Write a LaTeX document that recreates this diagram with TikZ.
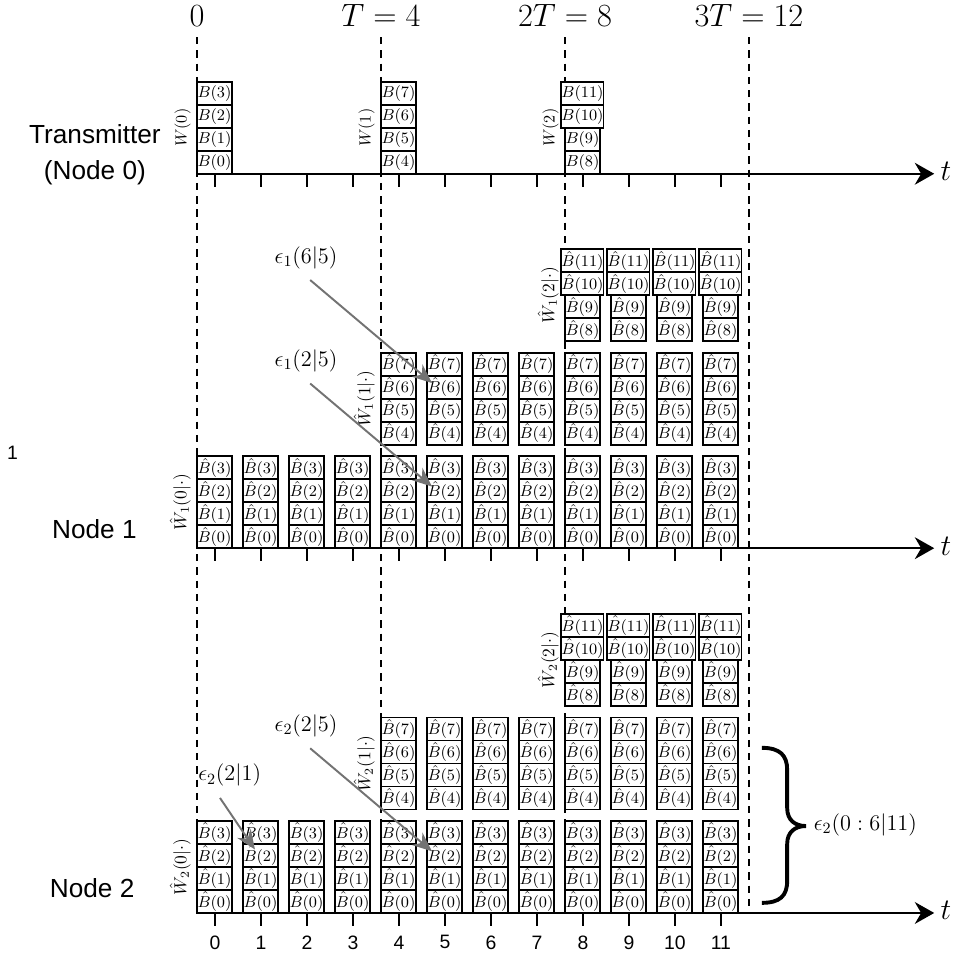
\RequirePackage{fix-cm}
\documentclass[tikz,border=0pt]{standalone}
\usepackage{fontspec}
\newfontfamily\labelfont{Liberation Sans}
\usetikzlibrary{arrows.meta}

\begin{document}
\begin{tikzpicture}[
    line width=1.2pt,
    blk/.style={draw, fill=white, minimum width=0.76cm, minimum height=0.5cm,
        inner sep=0pt, font=\fontsize{9.8}{11}\selectfont},
    wlbl/.style={rotate=90, anchor=south, font=\fontsize{10}{12}\selectfont},
    timeaxis/.style={-{Stealth[length=12pt,width=13.5pt]}},
    guide/.style={dash pattern=on 4.5pt off 3.7pt},
    errarrow/.style={draw=black!55, -{Stealth[length=12pt,width=10pt]}},
    bigmath/.style={font=\fontsize{20}{24}\selectfont},
    axmath/.style={font=\fontsize{18.5}{22}\selectfont},
    epsmath/.style={font=\fontsize{13.8}{16}\selectfont},
    rowname/.style={font=\labelfont\fontsize{16.2}{22}\selectfont, align=center},
    ticklbl/.style={font=\labelfont\fontsize{12}{14}\selectfont},
]
\useasboundingbox (-4.283,-0.935) rectangle (16.609,19.848);

% time marks and guide lines
\foreach \x/\txt in {0/0, 4/T=4, 8/2T=8, 12/3T=12}{
    \node[bigmath, anchor=base] (mark\x) at (\x,19.28) {$\txt$};
    \draw[guide] (\x,19.04) -- (\x,0);
}

% transmitter windows
\foreach \w in {0,1,2}{
    \foreach \r in {0,...,3}{
        \pgfmathtruncatemacro{\bidx}{4*\w+\r}
        \node[blk] (tx-\w-\r) at (4*\w+0.38,16.07+0.25+0.5*\r) {$B(\bidx)$};
    }
    \node[wlbl] (wtx-\w) at (4*\w,17.07) {$W(\w)$};
}

% receiver buffers
\foreach \nd/\ax in {1/7.93,2/0}{
    \foreach \s in {0,1,2}{
        \pgfmathtruncatemacro{\kfirst}{4*\s}
        \foreach \k in {\kfirst,...,11}{
            \foreach \r in {0,...,3}{
                \pgfmathtruncatemacro{\bidx}{4*\s+\r}
                \node[blk] (b\nd-\k-\s-\r) at (\k+0.38,\ax+2.25*\s+0.25+0.5*\r) {$\hat{B}(\bidx)$};
            }
        }
        \node[wlbl, font=\fontsize{10.8}{13}\selectfont] (w\nd-\s) at (4*\s,\ax+2.25*\s+1) {$\hat{W}_{\nd}(\s|\cdot)$};
    }
}

% time axes
\foreach \ax/\nm in {16.07/0,7.93/1,0/2}{
    \node[axmath] (t\nm) at (16.28,\ax+0.05) {$t$};
    \draw[timeaxis] (0,\ax) -- (t\nm.west |- 0,\ax);
    \foreach \k in {0,...,11}
        \draw (\k+0.39,\ax) -- ++(0,-0.28);
}
\foreach \k in {0,...,11}
    \node[ticklbl] (lbl\k) at (\k+0.39,-0.64) {\k};

% row names
\node[rowname] (tx) at (-2.22,16.48) {Transmitter\\(Node 0)};
\node[rowname] (nd1) at (-2.23,8.35) {Node 1};
\node[rowname] (nd2) at (-2.28,0.54) {Node 2};
\node[font=\labelfont\fontsize{12}{14}\selectfont] (stray) at (-4.01,10.01) {1};

% decoding errors
\node[epsmath, anchor=base] (e1a) at (2.37,14.13) {$\epsilon_1(6|5)$};
\node[epsmath, anchor=base] (e1b) at (2.37,11.88) {$\epsilon_1(2|5)$};
\node[epsmath, anchor=base] (e2b) at (2.37,3.95) {$\epsilon_2(2|5)$};
\node[epsmath, anchor=base] (e2a) at (0.71,2.87) {$\epsilon_2(2|1)$};
\draw[errarrow] ([shift={(0.09,-0.37)}]e1a.base) -- ([shift={(0.13,0.09)}]b1-5-1-2.west);
\draw[errarrow] ([shift={(0.09,-0.37)}]e1b.base) -- ([shift={(0.13,0.09)}]b1-5-0-2.west);
\draw[errarrow] ([shift={(0.09,-0.37)}]e2b.base) -- ([shift={(0.13,0.09)}]b2-5-0-2.west);
\draw[errarrow] ([shift={(-0.21,-0.37)}]e2a.base) -- ([shift={(0.28,0.13)}]b2-1-0-2.west);

% brace over the decoded part
\draw[line width=2.4pt] (12.28,3.59) .. controls (12.67,3.59) and (12.83,3.43) .. (12.83,3.11)
    -- (12.83,2.28) .. controls (12.83,2.02) and (13.0,1.89) .. (13.24,1.89)
    .. controls (13.0,1.89) and (12.83,1.76) .. (12.83,1.50)
    -- (12.83,0.70) .. controls (12.83,0.37) and (12.67,0.22) .. (12.28,0.22);
\node[epsmath, anchor=base west, inner sep=0pt] (e2all) at (13.39,1.80) {$\epsilon_2(0:6|11)$};
\end{tikzpicture}
\end{document}
